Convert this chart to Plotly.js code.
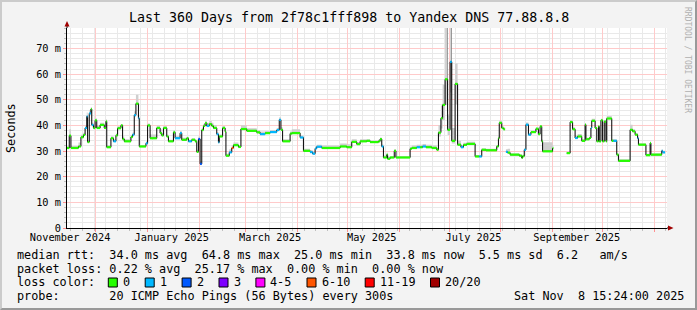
<!DOCTYPE html>
<html>
<head>
<meta charset="utf-8">
<script src="https://cdn.plot.ly/plotly-3.0.1.min.js"></script>
<style>
  html, body { margin: 0; padding: 0; background: #f3f3f3; }
  #wrap { width: 697px; height: 310px; box-sizing: border-box;
          border-top: 2px solid #cbcbcb; border-left: 2px solid #cbcbcb;
          border-right: 2px solid #999999; border-bottom: 2px solid #999999; }
  #chart { width: 693px; height: 306px; }
</style>
</head>
<body>
<div id="wrap"><div id="chart"></div></div>
<script>
// ---------------- data ----------------
const xStart = '2024-11-13 15:24';
const xEnd   = '2025-11-08 15:24';

const stepDates = [
 '2024-11-13 00:00','2024-11-15 00:00','2024-11-16 00:00','2024-11-20 12:00','2024-11-22 00:00','2024-11-23 12:00',
 '2024-11-24 12:00','2024-11-25 12:00','2024-11-26 00:00','2024-11-27 00:00','2024-11-28 00:00','2024-11-28 12:00',
 '2024-11-29 12:00','2024-11-30 12:00','2024-12-01 12:00','2024-12-03 12:00','2024-12-06 00:00','2024-12-07 00:00',
 '2024-12-07 12:00','2024-12-10 00:00','2024-12-11 12:00','2024-12-13 00:00','2024-12-14 00:00','2024-12-16 00:00',
 '2024-12-17 00:00','2024-12-18 00:00','2024-12-22 00:00','2024-12-23 00:00','2024-12-24 00:00','2024-12-25 00:00',
 '2024-12-26 12:00','2024-12-27 00:00','2024-12-31 00:00','2025-01-01 00:00','2025-01-02 12:00','2025-01-06 12:00',
 '2025-01-08 12:00','2025-01-09 12:00','2025-01-10 12:00','2025-01-12 12:00','2025-01-13 12:00','2025-01-16 12:00',
 '2025-01-17 12:00','2025-01-20 12:00','2025-01-21 12:00','2025-01-24 12:00','2025-01-25 12:00','2025-01-27 12:00',
 '2025-01-29 12:00','2025-01-30 12:00','2025-01-31 12:00','2025-02-01 12:00','2025-02-02 12:00','2025-02-03 12:00',
 '2025-02-04 12:00','2025-02-05 12:00','2025-02-07 00:00','2025-02-08 12:00','2025-02-09 12:00','2025-02-11 12:00',
 '2025-02-12 12:00','2025-02-13 00:00','2025-02-15 00:00','2025-02-16 12:00','2025-02-17 00:00','2025-02-19 00:00',
 '2025-02-20 12:00','2025-02-21 12:00','2025-02-24 12:00','2025-02-26 00:00','2025-03-01 12:00','2025-03-07 12:00',
 '2025-03-09 12:00','2025-03-12 12:00','2025-03-15 12:00','2025-03-19 12:00','2025-03-21 00:00','2025-03-22 00:00',
 '2025-03-23 00:00','2025-03-27 12:00','2025-03-28 12:00','2025-04-02 12:00','2025-04-04 12:00','2025-04-08 12:00',
 '2025-04-10 00:00','2025-04-11 12:00','2025-04-12 12:00','2025-04-15 12:00','2025-04-26 12:00','2025-04-30 12:00',
 '2025-05-03 12:00','2025-05-06 12:00','2025-05-08 12:00','2025-05-12 12:00','2025-05-14 12:00','2025-05-19 12:00',
 '2025-05-20 12:00','2025-05-21 12:00','2025-05-22 12:00','2025-05-24 12:00','2025-05-25 00:00','2025-05-26 12:00',
 '2025-05-29 00:00','2025-05-30 00:00','2025-06-07 12:00','2025-06-08 12:00','2025-06-11 12:00','2025-06-13 12:00',
 '2025-06-15 00:00','2025-06-17 00:00','2025-06-20 12:00','2025-06-23 12:00','2025-06-24 12:00','2025-06-26 00:00',
 '2025-06-27 00:00','2025-06-28 12:00','2025-06-30 00:00','2025-07-01 12:00','2025-07-02 12:00','2025-07-04 12:00',
 '2025-07-06 00:00','2025-07-08 00:00','2025-07-09 12:00','2025-07-11 12:00','2025-07-16 12:00','2025-07-19 00:00',
 '2025-07-20 12:00','2025-07-23 00:00','2025-07-29 12:00','2025-07-30 12:00','2025-07-31 00:00','2025-08-01 12:00',
 '2025-08-02 12:00','2025-08-03 12:00','2025-08-04 00:00','2025-08-05 00:00','2025-08-06 12:00','2025-08-12 00:00',
 '2025-08-13 12:00','2025-08-14 00:00','2025-08-15 00:00','2025-08-16 00:00','2025-08-17 12:00','2025-08-19 00:00',
 '2025-08-22 00:00','2025-08-23 12:00','2025-08-24 12:00','2025-08-25 12:00','2025-08-26 00:00','2025-09-01 00:00',
 '2025-09-01 12:00','2025-09-09 12:00','2025-09-11 12:00','2025-09-13 00:00','2025-09-14 12:00','2025-09-16 00:00',
 '2025-09-18 12:00','2025-09-20 12:00','2025-09-21 00:00','2025-09-23 00:00','2025-09-24 00:00','2025-09-24 12:00',
 '2025-09-26 12:00','2025-09-27 12:00','2025-09-28 12:00','2025-09-29 00:00','2025-09-30 00:00','2025-10-01 00:00',
 '2025-10-02 00:00','2025-10-03 00:00','2025-10-03 12:00','2025-10-06 12:00','2025-10-07 12:00','2025-10-09 12:00',
 '2025-10-10 12:00','2025-10-17 12:00','2025-10-19 00:00','2025-10-20 12:00','2025-10-22 00:00','2025-10-22 12:00',
 '2025-10-27 00:00','2025-10-29 12:00','2025-10-30 00:00','2025-11-05 12:00','2025-11-06 00:00','2025-11-07 12:00'
];

// median rtt in ms (null = no data)
const medianMs = [
 31.2,36.0,31.2,31.8,35.4,36.3, 39.0,43.5,33.5,44.7,46.4,40.2, 39.0,42.0,39.0,40.2,39.0,41.6,
 31.5,35.0,33.8,36.1,38.9,40.0, 34.7,33.8,35.5,36.4,44.0,48.5, 42.8,31.8,33.0,40.0,35.0,39.0,
 37.0,36.1,39.0,35.7,33.8,37.3, 35.0,37.0,34.4,35.0,33.8,34.4, 33.8,29.7,34.7,25.0,38.2,39.8,
 40.9,39.8,40.5,39.8,39.0,36.6, 33.4,35.7,39.0,37.6,28.2,29.5, 31.2,32.3,31.6,38.6,37.9,37.3,
 36.6,37.0,37.4,38.2,42.2,38.3, 33.8,36.8,37.0,35.3,30.1,29.6, 29.0,31.0,31.7,31.2,31.8,31.5,
 33.6,32.7,33.8,34.0,33.5,33.8, 34.7,31.8,27.5,28.6,27.0,27.5, 30.1,27.5,30.9,31.2,31.5,31.5,
 31.8,31.5,31.2,30.5,37.2,42.8, 48.0,58.0,38.3,64.8,34.0,56.2, 32.5,31.5,32.4,32.8,27.9,27.9,
 30.5,30.3,31.8,35.0,41.0,39.0, 38.5,null,29.7,29.4,28.6,28.2, 27.3,28.0,30.5,40.3,36.4,37.4,
 38.7,36.6,39.6,33.8,29.9,31.2, null,29.2,41.3,38.5,35.1,35.7, 34.0,40.3,34.6,35.1,39.0,41.8,
 39.0,33.8,39.6,33.8,42.0,33.8, 41.5,33.8,42.7,34.0,34.0,28.6, 26.2,38.3,37.7,36.4,35.0,32.5,
 28.4,33.1,28.6,30.1,29.5,null
];

// loss bucket index (0 = no loss, 1 = 1 lost, 2 = 2 lost, 5 = 6-10 lost)
const lossBucket = [
 0,0,0,0,0,0, 1,1,0,1,0,1, 0,0,0,0,0,0,
 0,0,1,0,0,0, 0,0,0,1,1,0, 1,0,1,0,0,0,
 0,0,0,0,0,0, 1,1,0,0,1,0, 0,0,2,2,0,0,
 0,1,0,0,0,1, 1,0,0,0,0,1, 5,0,0,0,0,0,
 1,0,1,1,1,0, 0,0,0,1,0,1, 1,1,1,0,0,0,
 0,0,0,0,0,0, 0,1,0,0,0,0, 0,0,0,0,1,0,
 1,0,0,0,0,0, 0,0,0,1,0,0, 0,1,0,0,0,1,
 0,0,0,0,0,0, 0,null,1,0,0,0, 0,0,1,1,1,0,
 0,0,0,0,0,0, null,0,0,0,1,0, 0,0,0,0,1,0,
 0,0,0,0,0,0, 0,0,0,0,1,0, 0,0,0,0,1,0,
 0,0,0,1,1,null
];

// smoke (ping spread) above / below the median, ms
const smokeUp = [
 0.6,2.5,0.8,1.5,1.0,0.8, 1.0,1.5,0.8,1.2,0.8,0.8, 0.8,0.8,0.8,0.8,0.6,0.8,
 0.8,0.8,0.8,0.8,0.8,0.6, 1.0,0.8,0.8,0.8,1.5,3.5, 1.0,0.6,0.8,0.8,1.5,1.0,
 1.5,0.8,0.8,0.8,0.6,0.8, 0.8,0.8,0.8,0.6,0.6,0.6, 0.6,0.8,1.0,1.0,0.8,0.8,
 0.8,1.2,1.2,1.2,1.2,0.8, 0.8,0.8,0.8,0.8,0.8,1.2, 1.0,1.0,0.8,1.5,1.0,0.8,
 1.0,0.8,0.8,0.8,1.0,1.0, 0.8,0.8,1.5,0.8,0.8,0.8, 0.8,0.8,0.8,1.0,1.2,1.2,
 1.0,0.8,0.8,0.6,0.6,0.6, 0.6,0.8,0.8,0.8,0.8,0.6, 0.6,0.6,0.8,1.0,1.0,1.0,
 1.0,1.0,1.0,0.8,3.0,5.0, 8.0,20.0,6.0,13.2,5.0,8.0, 1.5,0.8,0.8,0.8,0.6,0.6,
 0.6,0.6,0.6,0.8,0.8,0.8, 0.8,0,1.0,1.5,0.6,0.6, 0.6,0.6,0.6,0.8,0.6,0.6,
 0.6,0.6,0.6,0.8,3.5,1.0, 0,0.6,0.8,0.8,1.0,1.0, 0.6,0.6,0.6,0.6,0.6,0.8,
 0.6,0.6,0.6,0.6,0.6,0.6, 0.6,0.6,1.0,0.6,0.6,0.6, 0.6,2.0,0.8,0.6,0.6,0.6,
 0.6,0.6,0.6,0.6,0.6,0
];
const smokeDown = [
 0.3,0.5,0.3,0.3,0.3,0.3, 0.5,0.8,0.3,0.5,0.5,0.5, 0.3,0.3,0.3,0.3,0.3,0.3,
 0.3,0.3,0.3,0.3,0.3,0.3, 0.3,0.3,0.3,0.3,0.5,0.5, 0.5,0.3,0.3,0.3,0.3,0.3,
 0.3,0.3,0.3,0.3,0.3,0.3, 0.3,0.3,0.3,0.3,0.3,0.3, 0.3,0.3,0.5,0.5,0.3,0.3,
 0.3,0.3,0.3,0.3,0.3,0.3, 0.3,0.3,0.3,0.3,0.3,0.3, 0.3,0.3,0.3,0.3,0.3,0.3,
 0.3,0.3,0.3,0.3,0.3,0.3, 0.3,0.3,0.3,0.3,0.3,0.3, 0.3,0.3,0.3,0.3,0.3,0.3,
 0.3,0.3,0.3,0.3,0.3,0.3, 0.3,0.3,0.3,0.3,0.3,0.3, 0.3,0.3,0.3,0.3,0.3,0.3,
 0.3,0.3,0.3,0.3,1.5,4.0, 6.0,10.0,2.0,12.0,1.0,8.0, 0.5,0.3,0.3,0.3,0.3,0.3,
 0.3,0.3,0.3,0.3,0.3,0.3, 0.3,0,0.3,0.3,0.3,0.3, 0.3,0.3,0.3,0.3,0.3,0.3,
 0.3,0.3,0.3,0.3,0.3,0.3, 0,0.3,0.3,0.3,0.3,0.3, 0.3,0.3,0.3,0.3,0.3,0.3,
 0.3,0.3,0.3,0.3,0.3,0.3, 0.3,0.3,0.3,0.3,0.3,0.3, 0.3,0.3,0.3,0.3,0.3,0.3,
 0.3,0.3,0.3,0.3,0.3,0
];

// dense dark smoke columns at the late-June spike
const peakStart = ['2025-06-29 18:00','2025-07-02 03:00'];
const peakEnd   = ['2025-06-30 00:00','2025-07-02 09:00'];
const peakLow   = [45, 50];
const peakHigh  = [78, 78];

const lossLabels = ['0','1','2','3','4-5','6-10','11-19','20/20'];
const lossColors = ['#26ff00','#00b8ff','#0059ff','#7e00ff','#ff00fe','#ff5500','#ff0000','#a10000'];

const yTickVals = [0,10,20,30,40,50,60,70];
const yTickText = ['0','10 m','20 m','30 m','40 m','50 m','60 m','70 m'];
const monthLabelDates = ['2024-11-15 12:00','2025-01-15 12:00','2025-03-15 12:00','2025-05-15 12:00','2025-07-15 12:00','2025-09-15 12:00'];
const monthLabels = ['November 2024','January 2025','March 2025','May 2025','July 2025','September 2025'];

const titleText = 'Last 360 Days from 2f78c1fff898 to Yandex DNS 77.88.8.8';
const yTitle = 'Seconds';
const legendRtt  = 'median rtt:  34.0 ms avg  64.8 ms max  25.0 ms min  33.8 ms now  5.5 ms sd  6.2   am/s';
const legendLoss = 'packet loss: 0.22 % avg  25.17 % max  0.00 % min  0.00 % now';
const legendLossColor = 'loss color:';
const legendProbe = 'probe:       20 ICMP Echo Pings (56 Bytes) every 300s';
const legendDate = 'Sat Nov  8 15:24:00 2025';
const watermark = 'RRDTOOL / TOBI OETIKER';

// ---------------- build ----------------
const MONO = 'DejaVu Sans Mono';
const PL = 67, PR = 667, PT = 28, PB = 228;   // plot box in page pixels
const X = px => (px - PL) / (PR - PL);
const Y = py => (PB - py) / (PB - PT);
const nb = s => s.replace(/ /g, '\u00a0');
const MAJOR_GRID = '#ffcaca', MINOR_GRID = '#e9e9e9';

const traces = [];

// smoke polygons
const sx = [], sy = [];
for (let i = 0; i < stepDates.length - 1; i++) {
  const v = medianMs[i];
  if (v === null) continue;
  const lo = v - smokeDown[i], hi = v + smokeUp[i];
  sx.push(stepDates[i], stepDates[i+1], stepDates[i+1], stepDates[i], stepDates[i], null);
  sy.push(lo, lo, hi, hi, lo, null);
}
traces.push({x: sx, y: sy, type: 'scatter', mode: 'lines', fill: 'toself',
  fillcolor: '#cfcfcf', line: {width: 0, color: 'rgba(0,0,0,0)'}, hoverinfo: 'skip', showlegend: false});

// dark smoke columns
const px_ = [], py_ = [];
for (let i = 0; i < peakStart.length; i++) {
  px_.push(peakStart[i], peakEnd[i], peakEnd[i], peakStart[i], peakStart[i], null);
  py_.push(peakLow[i], peakLow[i], peakHigh[i], peakHigh[i], peakLow[i], null);
}
traces.push({x: px_, y: py_, type: 'scatter', mode: 'lines', fill: 'toself',
  fillcolor: '#404040', line: {width: 0, color: 'rgba(0,0,0,0)'}, hoverinfo: 'skip', showlegend: false});

// median step line (black)
traces.push({x: stepDates, y: medianMs, type: 'scatter', mode: 'lines',
  line: {color: '#000000', width: 1, shape: 'hv'}, connectgaps: false, hoverinfo: 'skip', showlegend: false});

// loss-coloured median segments
for (let b = 0; b < lossColors.length; b++) {
  const cx = [], cy = [];
  for (let i = 0; i < stepDates.length - 1; i++) {
    if (medianMs[i] === null || lossBucket[i] !== b) continue;
    cx.push(stepDates[i], stepDates[i+1], null);
    cy.push(medianMs[i], medianMs[i], null);
  }
  if (cx.length) traces.push({x: cx, y: cy, type: 'scatter', mode: 'lines',
    line: {color: lossColors[b], width: 2.2}, hoverinfo: 'skip', showlegend: false});
}

// dummy trace for the label axis
traces.push({x: [xStart], y: [null], xaxis: 'x2', type: 'scatter', mode: 'lines', hoverinfo: 'skip', showlegend: false});

const annotations = [];
function ann(text, ax, ay, o) {
  annotations.push(Object.assign({text: nb(text), x: X(ax), y: Y(ay), xref: 'paper', yref: 'paper',
    showarrow: false, xanchor: 'left', yanchor: 'middle', borderpad: 0,
    font: {family: MONO, size: 11.8, color: '#000'}}, o || {}));
}
ann(titleText, 348.5, 18, {xanchor: 'center', font: {family: MONO, size: 13.3, color: '#000'}});
ann(yTitle, 11, 128, {xanchor: 'center', textangle: -90});
ann(watermark, 688, 60, {xanchor: 'center', textangle: 90, font: {family: MONO, size: 8, color: '#b0b0b0'}});
ann(legendRtt, 16, 254.5);
ann(legendLoss, 16, 268.5);
ann(legendLossColor, 16, 282.3);
ann(legendProbe, 16, 296.2);
ann(legendDate, 512.5, 296.2);

const shapes = [];
// axis arrows
shapes.push({type: 'line', xref: 'paper', yref: 'paper', x0: X(67), x1: X(67), y0: Y(28), y1: Y(24), line: {color: '#000', width: 1}});
shapes.push({type: 'path', xref: 'paper', yref: 'paper',
  path: `M ${X(67)},${Y(21)} L ${X(64.5)},${Y(26.5)} L ${X(69.5)},${Y(26.5)} Z`, fillcolor: '#a00000', line: {width: 0}});
shapes.push({type: 'line', xref: 'paper', yref: 'paper', x0: X(667), x1: X(669), y0: Y(228), y1: Y(228), line: {color: '#000', width: 1}});
shapes.push({type: 'path', xref: 'paper', yref: 'paper',
  path: `M ${X(673.5)},${Y(228)} L ${X(668)},${Y(225.5)} L ${X(668)},${Y(230.5)} Z`, fillcolor: '#a00000', line: {width: 0}});

// loss colour legend boxes
let bx = 108.3;
for (let k = 0; k < lossLabels.length; k++) {
  shapes.push({type: 'rect', xref: 'paper', yref: 'paper', x0: X(bx), x1: X(bx + 9), y0: Y(287), y1: Y(278),
    fillcolor: lossColors[k], line: {color: '#000', width: 1}});
  ann(lossLabels[k], bx + 13.5, 282.3);
  bx += 14 + lossLabels[k].length * 7.1 + 15.8;
}

const layout = {
  width: 693, height: 306,
  margin: {l: PL - 2, r: 693 - (PR - 2), t: PT - 2, b: 306 - (PB - 2), pad: 0},
  paper_bgcolor: '#f3f3f3', plot_bgcolor: '#ffffff',
  showlegend: false,
  xaxis: {type: 'date', range: [xStart, xEnd], tickmode: 'linear', tick0: '2024-12-01', dtick: 'M1',
    showticklabels: false, showgrid: true, gridcolor: MAJOR_GRID, gridwidth: 1,
    ticks: 'outside', ticklen: 3, tickcolor: '#ff9090', showline: true, linecolor: '#000', linewidth: 1,
    zeroline: false, fixedrange: true,
    minor: {tick0: '2024-11-16', dtick: 7 * 86400000, showgrid: true, gridcolor: MINOR_GRID,
      gridwidth: 1, ticks: 'outside', ticklen: 2, tickcolor: '#c0c0c0'}},
  xaxis2: {type: 'date', overlaying: 'x', anchor: 'y', side: 'bottom', range: [xStart, xEnd],
    tickmode: 'array', tickvals: monthLabelDates, ticktext: monthLabels, showgrid: false, ticks: '',
    showline: false, zeroline: false, fixedrange: true, ticklabelstandoff: 2,
    tickfont: {family: MONO, size: 10.3, color: '#000'}},
  yaxis: {range: [0, 78], tickmode: 'array', tickvals: yTickVals, ticktext: yTickText,
    showgrid: true, gridcolor: MAJOR_GRID, gridwidth: 1, zeroline: false,
    showline: true, linecolor: '#000', linewidth: 1, ticks: 'outside', ticklen: 3, tickcolor: '#ff9090',
    tickfont: {family: MONO, size: 10.3, color: '#000'}, fixedrange: true,
    minor: {tickmode: 'linear', tick0: 0, dtick: 2, showgrid: true, gridcolor: MINOR_GRID,
      gridwidth: 1, ticks: 'outside', ticklen: 2, tickcolor: '#c0c0c0'}},
  annotations: annotations,
  shapes: shapes
};

Plotly.newPlot('chart', traces, layout, {staticPlot: true, displayModeBar: false});
</script>
</body>
</html>
